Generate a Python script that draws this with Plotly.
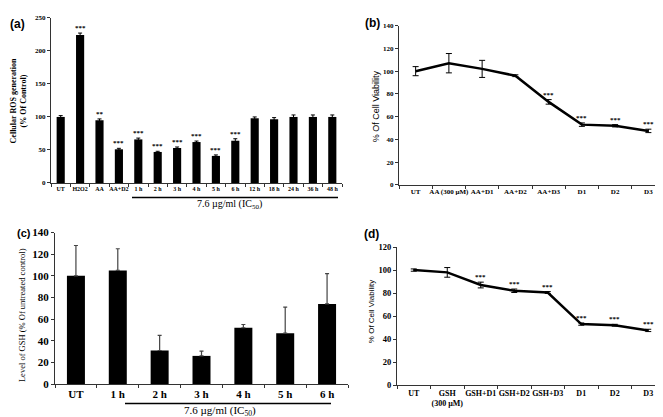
import plotly.graph_objects as go

# ---------------- data ----------------
a_cats = ["UT", "H2O2", "AA", "AA+D2", "1 h", "2 h", "3 h", "4 h", "5 h", "6 h",
          "12 h", "18 h", "24 h", "36 h", "48 h"]
a_vals = [100, 224, 95, 51, 66, 47, 53, 62, 41, 64, 98, 96.5, 100, 100, 100]
a_err = [2, 3, 2, 1.5, 2, 1, 1.5, 1.5, 1.5, 3, 2, 2.5, 3, 3, 3]
a_sig = ["", "***", "**", "***", "***", "***", "***", "***", "***", "***", "", "", "", "", ""]

b_cats = ["UT", "AA (300 µM)", "AA+D1", "AA+D2", "AA+D3", "D1", "D2", "D3"]
b_vals = [100, 107, 102, 96, 73, 53, 52, 47.5]
b_err = [4, 8.5, 7.5, 0.8, 2, 1.5, 1, 1.5]
b_sig = ["", "", "", "", "***", "***", "***", "***"]

c_cats = ["UT", "1 h", "2 h", "3 h", "4 h", "5 h", "6 h"]
c_vals = [100, 105, 31, 26, 52, 47, 74]
c_err = [28, 20, 14, 4.5, 3, 24, 28]

d_cats = ["UT", "GSH<br>(300 µM)", "GSH+D1", "GSH+D2", "GSH+D3", "D1", "D2", "D3"]
d_vals = [100, 98, 87, 82, 80.5, 53, 52, 47.5]
d_err = [1, 4.2, 2.5, 1.5, 0.8, 1, 0.8, 1]
d_sig = ["", "", "***", "***", "***", "***", "***", "***"]

# ---------------- layout helpers ----------------
W, H = 663, 417
def px(x):
    return x / W
def py(y):
    return 1 - y / H

SERIF = "Liberation Serif, Times New Roman, serif"
SANS = "Liberation Sans, Arial, sans-serif"

fig = go.Figure()

# (a) bars
fig.add_trace(go.Bar(x=a_cats, y=a_vals, width=0.42, marker=dict(color="black", line=dict(width=0)),
                     error_y=dict(type="data", array=a_err, color="black", thickness=1, width=2),
                     xaxis="x", yaxis="y", showlegend=False))
# (b) line
fig.add_trace(go.Scatter(x=b_cats, y=b_vals, mode="lines", line=dict(color="black", width=2.5),
                         error_y=dict(type="data", array=b_err, color="black", thickness=1, width=3),
                         xaxis="x2", yaxis="y2", showlegend=False))
# (c) bars
fig.add_trace(go.Bar(x=c_cats, y=c_vals, width=0.43, marker=dict(color="black", line=dict(width=0)),
                     error_y=dict(type="data", symmetric=False, array=c_err, arrayminus=[0] * len(c_err),
                                  color="#444", thickness=1.2, width=2),
                     xaxis="x3", yaxis="y3", showlegend=False))
# (d) line
fig.add_trace(go.Scatter(x=d_cats, y=d_vals, mode="lines", line=dict(color="black", width=2.5),
                         error_y=dict(type="data", array=d_err, color="black", thickness=1, width=3),
                         xaxis="x4", yaxis="y4", showlegend=False))

def xax(domain, anchor, size, n):
    return dict(domain=domain, anchor=anchor, type="category", range=[-0.5, n - 0.5],
                showgrid=False, zeroline=False,
                showline=True, linecolor="#333", linewidth=1, ticks="outside", tickson="boundaries",
                ticklen=3, tickcolor="#333", tickangle=0,
                tickfont=dict(family=SERIF, size=size, color="black", weight=700))

def yax(domain, anchor, rng, dtick, size):
    return dict(domain=domain, anchor=anchor, range=rng, dtick=dtick, showgrid=False, zeroline=False,
                showline=True, linecolor="#333", linewidth=1, ticks="outside", ticklen=3,
                tickcolor="#333", tickfont=dict(family=SERIF, size=size, color="black", weight=700))

fig.update_layout(
    width=W, height=H, margin=dict(l=0, r=0, t=0, b=0),
    paper_bgcolor="white", plot_bgcolor="white",
    xaxis=xax([px(43), px(334)], "y", 6, len(a_cats)),
    yaxis=yax([py(174), py(4)], "x", [0, 250], 50, 7),
    xaxis2=xax([px(391), px(657)], "y2", 7, len(b_cats)),
    yaxis2=yax([py(176), py(12)], "x2", [0, 140], 20, 7),
    xaxis3=xax([px(47), px(340)], "y3", 11, len(c_cats)),
    yaxis3=yax([py(381), py(225)], "x3", [0, 140], 20, 11),
    xaxis4=xax([px(389), px(657)], "y4", 8, len(d_cats)),
    yaxis4=yax([py(382), py(240)], "x4", [0, 120], 20, 8.5),
)

ann = []
star_font = dict(family=SERIF, size=7, color="black", weight=700)
for cats, vals, errs, sig, xa, ya in [(a_cats, a_vals, a_err, a_sig, "x", "y"),
                                      (b_cats, b_vals, b_err, b_sig, "x2", "y2"),
                                      (d_cats, d_vals, d_err, d_sig, "x4", "y4")]:
    for c, v, e, s in zip(cats, vals, errs, sig):
        if s:
            ann.append(dict(x=c, y=v + e, xref=xa, yref=ya, text=s, showarrow=False,
                            xanchor="center", yanchor="bottom", yshift=-1, font=star_font))

def note(text, x, y, font, angle=0):
    ann.append(dict(x=px(x), y=py(y), xref="paper", yref="paper", text=text, showarrow=False,
                    xanchor="center", yanchor="middle", textangle=angle, borderpad=0, font=font))

# panel labels
for t, x, y, s in [("(a)", 9, 10, 12), ("(b)", 364, 9, 12), ("(c)", 16, 226, 11), ("(d)", 363, 227, 12)]:
    note(t, x, y, dict(family=SANS, size=s, color="black", weight=700))

# y titles
note("Cellular ROS generation<br>(% Of Control)", 10, 90,
     dict(family=SERIF, size=8, color="black", weight=700), -90)
note("Level of GSH (% Of untreated control)", 14, 310,
     dict(family=SERIF, size=8.5, color="black"), -90)
note("% Of Cell Viability", 368, 95, dict(family=SANS, size=9, color="black"), -90)
note("% Of Cell Viability", 363, 307, dict(family=SANS, size=8, color="black"), -90)

# IC50 captions
note("7.6 µg/ml (IC<sub>50</sub>)", 222, 196, dict(family=SERIF, size=10, color="black"))
note("7.6 µg/ml (IC<sub>50</sub>)", 212, 409, dict(family=SERIF, size=11, color="black"))

fig.update_layout(annotations=ann, shapes=[
    dict(type="line", xref="paper", yref="paper", x0=px(124), x1=px(330), y0=py(189), y1=py(189),
         line=dict(color="black", width=1.5)),
    dict(type="line", xref="paper", yref="paper", x0=px(117), x1=px(323), y0=py(401), y1=py(401),
         line=dict(color="black", width=1.5)),
])

fig.write_html("out.html")
